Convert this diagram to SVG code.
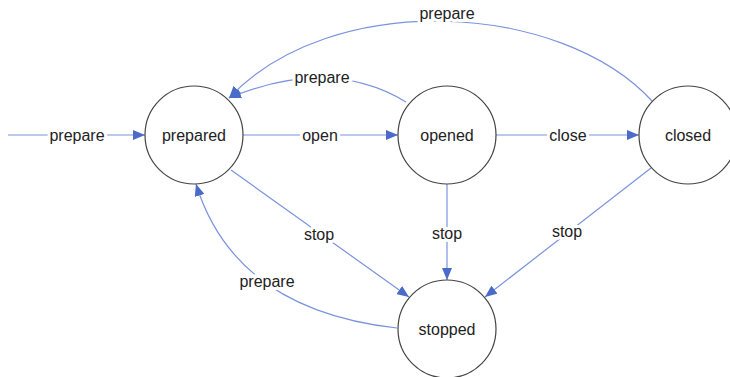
<svg xmlns="http://www.w3.org/2000/svg" width="730" height="377" viewBox="0 0 730 377">
<style>
.node circle{fill:#fff;stroke:#444;stroke-width:1.2}
.node text{font-family:"Liberation Sans",Arial,sans-serif;font-size:16px;fill:#222;text-anchor:middle;dominant-baseline:central}
.edge{fill:none;stroke:#7b93dd;stroke-width:1.2;marker-end:url(#arr)}
.lbl{font-family:"Liberation Sans",Arial,sans-serif;font-size:16px;fill:#222;text-anchor:middle;dominant-baseline:central;stroke:#fff;stroke-width:6;paint-order:stroke}
</style>
<defs>
<marker id="arr" viewBox="0 0 12 10" refX="12" refY="5" markerWidth="12" markerHeight="10" markerUnits="userSpaceOnUse" orient="auto">
<path d="M0,0 L12,5 L0,10 Z" fill="#4a6cc8"/>
</marker>
</defs>
<rect width="730" height="377" fill="#fff"/>
<g id="connectors">
<path class="edge" d="M8,135 L145,135"/>
<path class="edge" d="M243,135 L398,135"/>
<path class="edge" d="M496,135 L639,135"/>
<path class="edge" d="M231,170 L409,297"/>
<path class="edge" d="M447,183 L447,280"/>
<path class="edge" d="M651,168 L485,297"/>
<path class="edge" d="M397,328 Q235,310 196,184"/>
<path class="edge" d="M406,102 Q330,56 229,98"/>
<path class="edge" d="M653,102 C560,0 330,-10 229,98"/>
<text class="lbl" x="77" y="135">prepare</text>
<text class="lbl" x="320" y="135">open</text>
<text class="lbl" x="568" y="135">close</text>
<text class="lbl" x="319" y="234">stop</text>
<text class="lbl" x="447" y="233">stop</text>
<text class="lbl" x="567" y="231">stop</text>
<text class="lbl" x="267" y="281">prepare</text>
<text class="lbl" x="322" y="77">prepare</text>
<text class="lbl" x="447" y="13">prepare</text>
</g>
<g id="prepared" class="node"><circle cx="194" cy="135" r="49"/><text x="194" y="135">prepared</text></g>
<g id="opened" class="node"><circle cx="447" cy="135" r="49"/><text x="447" y="135">opened</text></g>
<g id="closed" class="node"><circle cx="688" cy="135" r="49"/><text x="688" y="135">closed</text></g>
<g id="stopped" class="node"><circle cx="447" cy="329" r="49"/><text x="447" y="329">stopped</text></g>
</svg>
